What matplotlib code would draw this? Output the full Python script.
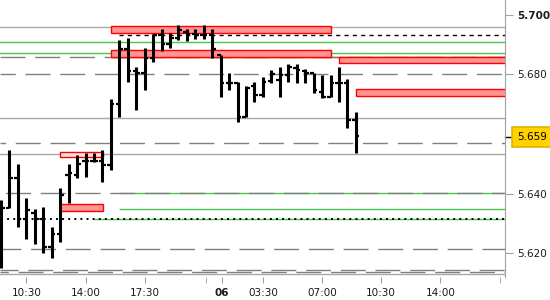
import matplotlib
matplotlib.use("Agg")
import matplotlib.pyplot as plt
import matplotlib.transforms as mtransforms
from matplotlib.patches import Rectangle

plt.rcParams['font.family'] = ['DejaVu Sans']
plt.rcParams['lines.scale_dashes'] = False

# ---------------------- DATA ---------------------- #
# 30-minute OHLC bars (bar index on x)
opens = [5.6311, 5.6351, 5.6452, 5.6314, 5.6334, 5.6314, 5.6220, 5.6264, 5.6462, 5.6462,
         5.6509, 5.6509, 5.6509, 5.6496, 5.6700, 5.6885, 5.6811, 5.6804, 5.6855, 5.6932,
         5.6902, 5.6922, 5.6942, 5.6935, 5.6932, 5.6932, 5.6865, 5.6771, 5.6771, 5.6657,
         5.6761, 5.6731, 5.6777, 5.6781, 5.6798, 5.6821, 5.6811, 5.6804, 5.6741, 5.6724,
         5.6771, 5.6771, 5.6647]
highs = [5.6378, 5.6546, 5.6499, 5.6385, 5.6348, 5.6355, 5.6288, 5.6418, 5.6499, 5.6529,
         5.6536, 5.6536, 5.6546, 5.6717, 5.6915, 5.6922, 5.6824, 5.6888, 5.6935, 5.6952,
         5.6939, 5.6965, 5.6952, 5.6952, 5.6965, 5.6952, 5.6865, 5.6804, 5.6774, 5.6761,
         5.6774, 5.6791, 5.6814, 5.6824, 5.6835, 5.6835, 5.6818, 5.6804, 5.6798, 5.6798,
         5.6824, 5.6784, 5.6673]
lows = [5.6150, 5.6351, 5.6288, 5.6247, 5.6230, 5.6200, 5.6183, 5.6237, 5.6368, 5.6452,
        5.6455, 5.6506, 5.6439, 5.6479, 5.6657, 5.6774, 5.6680, 5.6747, 5.6841, 5.6878,
        5.6888, 5.6915, 5.6912, 5.6918, 5.6918, 5.6855, 5.6724, 5.6747, 5.6640, 5.6657,
        5.6707, 5.6724, 5.6771, 5.6724, 5.6774, 5.6771, 5.6771, 5.6737, 5.6720, 5.6724,
        5.6707, 5.6620, 5.6536]
closes = [5.6351, 5.6452, 5.6314, 5.6345, 5.6314, 5.6220, 5.6264, 5.6395, 5.6469, 5.6499,
          5.6509, 5.6509, 5.6496, 5.6700, 5.6885, 5.6811, 5.6804, 5.6855, 5.6932, 5.6902,
          5.6922, 5.6949, 5.6935, 5.6932, 5.6932, 5.6885, 5.6771, 5.6771, 5.6657, 5.6754,
          5.6731, 5.6774, 5.6801, 5.6798, 5.6824, 5.6814, 5.6804, 5.6747, 5.6724, 5.6771,
          5.6771, 5.6647, 5.6593]
last_price = 5.659

# horizontal levels
solid_levels = [5.6960, 5.6654, 5.6533, 5.6130]
dashed_levels = [5.6859, 5.6801, 5.6570, 5.6402, 5.6213, 5.6145, 5.6138]
green_full = [5.6910, 5.6873]
green_partial = [(14, 5.6402), (14, 5.6349), (11, 5.6315)]   # (start bar, level)
red_partial = [(13, 5.6859)]
black_dashed = [(14, 5.6933)]
black_dotted = [(0, 5.6315)]

# zones: (start bar, end bar, low, high, fill)
zones = [(13.0, 39.05, 5.6940, 5.6963, '#ff9494'),
         (13.0, 39.05, 5.6859, 5.6882, '#ff9494'),
         (40.0, 60.0, 5.6839, 5.6859, '#ff9494'),
         (42.0, 60.0, 5.6728, 5.6751, '#ff9494'),
         (7.0, 12.07, 5.6523, 5.6540, '#ffe4e4'),
         (7.0, 12.07, 5.6341, 5.6365, '#ff9494')]

tick_pos = [3, 10, 17, 26.1, 31, 38, 45, 52]
tick_labels = ['10:30', '14:00', '17:30', '06', '03:30', '07:00', '10:30', '14:00']
minor_ticks = [24.3, 59]

y_ticks = [5.620, 5.640, 5.680, 5.700]

# ---------------------- PLOT ---------------------- #
fig = plt.figure(figsize=(5.5, 3.0), dpi=100)
ax = fig.add_axes([0.0, 1 - 277 / 300, 505 / 550, 277 / 300])
XMIN, XMAX = -0.12, 59.65
ax.set_xlim(XMIN, XMAX)
ax.set_ylim(5.6120, 5.70493)

for lv in solid_levels:
    ax.axhline(lv, color='#a8a8a8', lw=1.0, zorder=1)
for k, lv in enumerate(dashed_levels):
    ax.axhline(lv, color='#808080', lw=1.0, linestyle=(k * 7 % 30, (18, 7)), zorder=2)
for lv in green_full:
    ax.axhline(lv, color='#4cc44c', lw=1.0, zorder=1)
for x0, lv in green_partial:
    ax.hlines(lv, x0, XMAX, color='#4cc44c', lw=1.0, zorder=1)
for x0, lv in red_partial:
    ax.hlines(lv, x0, XMAX, color='#ff0000', lw=1.0, zorder=1)
for x0, lv in black_dashed:
    ax.hlines(lv, x0, XMAX, color='black', lw=1.0, linestyles=[(0, (3, 3))], zorder=2)
for x0, lv in black_dotted:
    ax.hlines(lv, x0, XMAX, color='black', lw=1.4, linestyles=[(0, (1.4, 3))], zorder=2)

for x0, x1, lo, hi, fc in zones:
    ax.add_patch(Rectangle((x0, lo), x1 - x0, hi - lo, facecolor=fc,
                           edgecolor='#ff0000', lw=1.0, zorder=3))

# OHLC bars
idx = list(range(len(opens)))
ax.vlines(idx, lows, highs, color='black', lw=2.2, zorder=5)
ax.hlines(opens, [i - 0.42 for i in idx], idx, color='black', lw=1.6, zorder=5)
ax.hlines(closes, idx, [i + 0.42 for i in idx], color='black', lw=1.6, zorder=5)

# axes styling
for s in ['top', 'left', 'bottom']:
    ax.spines[s].set_visible(False)
ax.spines['right'].set_color('#a0a0a0')
ax.yaxis.tick_right()
ax.set_yticks(y_ticks)
ax.set_yticklabels(['%.3f' % v for v in y_ticks])
ax.tick_params(axis='y', length=6, color='#a0a0a0', labelsize=7.5, labelcolor='#1a1a1a', pad=3)
ax.get_yticklabels()[-1].set_fontweight('bold')

ax.set_xticks(tick_pos)
ax.set_xticklabels(tick_labels)
ax.set_xticks(minor_ticks, minor=True)
ax.tick_params(axis='x', which='both', length=4, color='#a0a0a0', labelsize=7.5,
               labelcolor='#1a1a1a', pad=4)
ax.get_xticklabels()[tick_labels.index('06')].set_fontweight('bold')

# last price marker
trans = mtransforms.blended_transform_factory(ax.transAxes, ax.transData)
ax.plot([1.0, 1.012], [last_price, last_price], color='black', lw=1.0, transform=trans, clip_on=False)
ax.text(1.024, last_price, '%.3f' % last_price, transform=trans, ha='left', va='center',
        fontsize=7.5, color='black',
        bbox=dict(boxstyle='square,pad=0.5', facecolor='#ffd200', edgecolor='#e0b400', lw=1.2))

fig.savefig('out.png', dpi=100)
